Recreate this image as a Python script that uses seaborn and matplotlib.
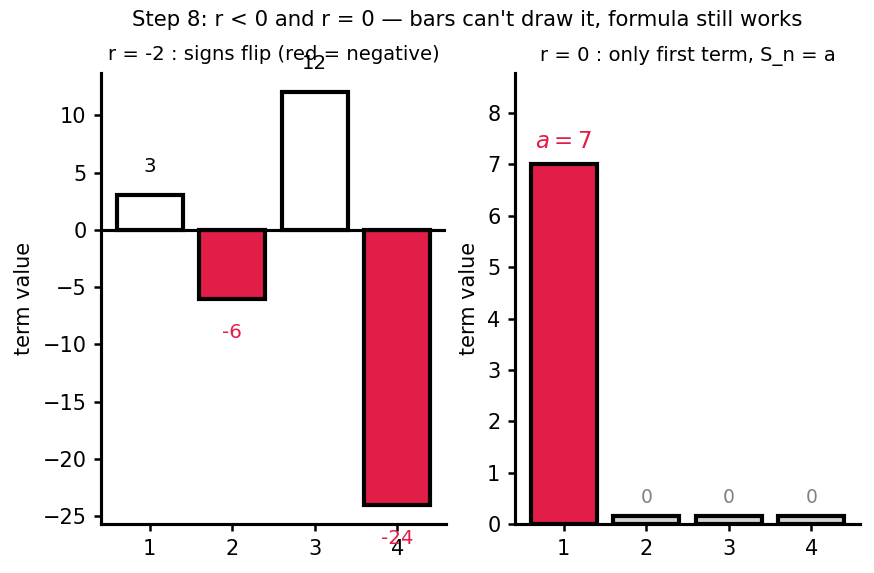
import numpy as np
import pandas as pd
import matplotlib
matplotlib.use("Agg")
import matplotlib.pyplot as plt
import seaborn as sns

# ---- data ----
n_terms = [1, 2, 3, 4]
left_values = [3, -6, 12, -24]        # r = -2, a = 3
right_values = [7, 0, 0, 0]           # r = 0, a = 7
zero_stub = 0.15                      # visible stub height for zero terms

RED = "#E11D48"
GRAY = "lightgray"

sns.set_style("ticks")
plt.rcParams.update({
    "axes.edgecolor": "black", "text.color": "black", "axes.labelcolor": "black",
    "xtick.color": "black", "ytick.color": "black",
    "font.size": 10, "axes.linewidth": 1.5,
})
plt.rcParams["font.family"] = ["DejaVu Sans"]

fig = plt.figure(figsize=(874 / 150, 573 / 150), dpi=150)
ax1 = fig.add_axes([101 / 874, 1 - 524 / 573, 345 / 874, 451 / 573])
ax2 = fig.add_axes([515 / 874, 1 - 524 / 573, 345 / 874, 451 / 573])

# ---- left panel ----
df1 = pd.DataFrame({"n": [str(v) for v in n_terms], "value": left_values})
colors1 = [RED if v < 0 else "white" for v in left_values]
sns.barplot(data=df1, x="n", y="value", hue="n", palette=colors1, legend=False,
            edgecolor="black", linewidth=2, width=0.8, saturation=1, ax=ax1)
ax1.axhline(0, color="black", lw=1.5)
for i, v in enumerate(left_values):
    if v >= 0:
        ax1.text(i, v + 2.5, str(v), ha="center", va="center", fontsize=9.5, color="black")
    else:
        ax1.text(i, v - 3.0, str(v), ha="center", va="center", fontsize=9.5, color=RED)
ax1.set_xlim(-0.59, 3.59)
ax1.set_ylim(-25.7, 13.7)
ax1.set_xlabel("")
ax1.set_ylabel("term value", fontsize=10)
ax1.set_title("r = -2 : signs flip (red = negative)", fontsize=9.4, pad=6)

# ---- right panel ----
heights2 = [v if v != 0 else zero_stub for v in right_values]
df2 = pd.DataFrame({"n": [str(v) for v in n_terms], "value": heights2})
colors2 = [RED if v != 0 else GRAY for v in right_values]
sns.barplot(data=df2, x="n", y="value", hue="n", palette=colors2, legend=False,
            edgecolor="black", linewidth=2, width=0.8, saturation=1, ax=ax2)
ax2.text(0, right_values[0] + 0.44, r"$a = 7$", ha="center", va="center",
         fontsize=11, color=RED)
for i, v in enumerate(right_values[1:], start=1):
    ax2.text(i, 0.52, str(v), ha="center", va="center", fontsize=9, color="gray")
ax2.set_xlim(-0.59, 3.59)
ax2.set_ylim(0, 8.78)
ax2.set_xlabel("")
ax2.set_ylabel("term value", fontsize=10)
ax2.set_title("r = 0 : only first term, S_n = a", fontsize=9.4, pad=6)

for ax in (ax1, ax2):
    sns.despine(ax=ax)
    ax.tick_params(labelsize=10, width=1.2)

fig.suptitle("Step 8: r < 0 and r = 0 \u2014 bars can't draw it, formula still works",
             fontsize=10.2, x=0.534, y=0.983)

fig.savefig("out.png", dpi=150)
